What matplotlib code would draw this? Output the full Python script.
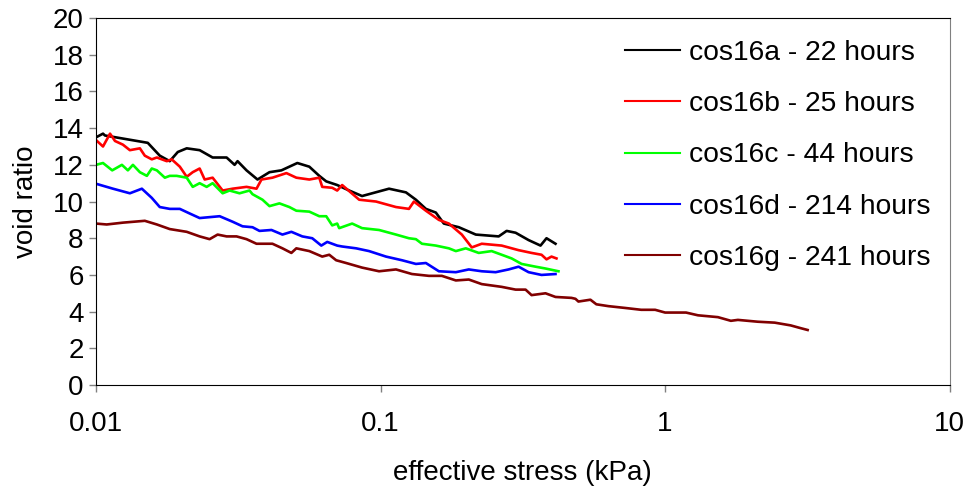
import matplotlib
matplotlib.use("Agg")
import matplotlib.pyplot as plt

plt.rcParams['font.family'] = ['Liberation Sans', 'DejaVu Sans']

# ---- data (effective stress in kPa, void ratio) ----
a_x = [0.01, 0.01058, 0.01075, 0.0152, 0.01675, 0.01816, 0.01938, 0.02083, 0.02313, 0.02569,
       0.02877, 0.03069, 0.03144, 0.0338, 0.03694, 0.0407, 0.04483, 0.05099, 0.05618, 0.0609,
       0.06442, 0.0704, 0.07757, 0.0861, 0.1071, 0.1228, 0.1331, 0.1443, 0.1564, 0.1669,
       0.1884, 0.2161, 0.2601, 0.2774, 0.2983, 0.3313, 0.3649, 0.383, 0.4119]
a_y = [13.5, 13.7, 13.6, 13.2, 12.5, 12.2, 12.7, 12.9, 12.8, 12.4,
       12.4, 12.0, 12.2, 11.7, 11.2, 11.6, 11.7, 12.1, 11.9, 11.4,
       11.1, 10.9, 10.6, 10.3, 10.7, 10.5, 10.1, 9.6, 9.4, 8.8,
       8.6, 8.2, 8.1, 8.4, 8.3, 7.9, 7.6, 8.0, 7.7]

b_x = [0.01, 0.01058, 0.0112, 0.01166, 0.01243, 0.01315, 0.01426, 0.01484, 0.0157, 0.01636,
       0.01773, 0.01845, 0.0197, 0.02083, 0.02187, 0.02313, 0.02409, 0.02569, 0.02786, 0.0302,
       0.0338, 0.03664, 0.03815, 0.04169, 0.04667, 0.05058, 0.05618, 0.0609, 0.06237, 0.06762,
       0.0704, 0.07328, 0.0841, 0.0964, 0.1133, 0.1258, 0.131, 0.1443, 0.1603, 0.1738,
       0.193, 0.2092, 0.2268, 0.2665, 0.3056, 0.3394, 0.3679, 0.383, 0.3988, 0.4152]
b_y = [13.35, 13.0, 13.7, 13.3, 13.1, 12.8, 12.9, 12.5, 12.3, 12.4,
       12.2, 12.3, 11.9, 11.35, 11.6, 11.8, 11.2, 11.3, 10.6, 10.7,
       10.8, 10.7, 11.2, 11.3, 11.55, 11.3, 11.2, 11.3, 10.8, 10.75,
       10.6, 10.9, 10.1, 10.0, 9.7, 9.6, 10.0, 9.5, 9.0, 8.8,
       8.2, 7.5, 7.7, 7.6, 7.35, 7.2, 7.1, 6.85, 7.0, 6.9]

c_x = [0.01, 0.01058, 0.01140, 0.01233, 0.01294, 0.01348, 0.01426, 0.01509, 0.0157, 0.01636,
       0.01745, 0.01816, 0.0192, 0.02083, 0.02187, 0.02313, 0.02448, 0.02569, 0.02786, 0.02947,
       0.03194, 0.03463, 0.03548, 0.03846, 0.0407, 0.04411, 0.04781, 0.05058, 0.05618, 0.0609,
       0.06442, 0.06762, 0.0704, 0.07154, 0.07946, 0.0861, 0.0988, 0.1133, 0.1258, 0.1331,
       0.1398, 0.1564, 0.1738, 0.1839, 0.1993, 0.2213, 0.2457, 0.2665, 0.2888, 0.3131,
       0.3505, 0.3799, 0.422]
c_y = [12.0, 12.1, 11.7, 12.0, 11.7, 12.0, 11.6, 11.4, 11.8, 11.7,
       11.3, 11.4, 11.4, 11.3, 10.8, 11.0, 10.8, 11.0, 10.45, 10.6,
       10.45, 10.6, 10.4, 10.1, 9.75, 9.9, 9.7, 9.5, 9.45, 9.2,
       9.2, 8.7, 8.8, 8.55, 8.8, 8.55, 8.45, 8.2, 8.0, 7.95,
       7.7, 7.6, 7.45, 7.3, 7.45, 7.2, 7.3, 7.1, 6.9, 6.6,
       6.45, 6.35, 6.2]

d_x = [0.0101, 0.01147, 0.01315, 0.01449, 0.0157, 0.01675, 0.01816, 0.0197, 0.02133, 0.02313,
       0.02507, 0.02719, 0.0302, 0.03273, 0.03548, 0.03754, 0.04136, 0.0452, 0.04859, 0.05309,
       0.05754, 0.0619, 0.06495, 0.0704, 0.07328, 0.0821, 0.0911, 0.1045, 0.119, 0.1331,
       0.1443, 0.1603, 0.1839, 0.2042, 0.2268, 0.2538, 0.2819, 0.3056, 0.3313, 0.3679,
       0.4119]
d_y = [10.95, 10.7, 10.45, 10.7, 10.2, 9.7, 9.6, 9.6, 9.35, 9.1,
       9.15, 9.2, 8.9, 8.65, 8.6, 8.4, 8.45, 8.2, 8.35, 8.1,
       8.0, 7.6, 7.8, 7.6, 7.55, 7.45, 7.3, 7.0, 6.8, 6.6,
       6.65, 6.2, 6.15, 6.3, 6.2, 6.15, 6.3, 6.45, 6.15, 6.0,
       6.05]

g_x = [0.01, 0.0109, 0.01243, 0.01484, 0.01636, 0.01816, 0.02083, 0.02313, 0.02507, 0.02675,
       0.02877, 0.03118, 0.0338, 0.03664, 0.04169, 0.0452, 0.04859, 0.05058, 0.05618, 0.06237,
       0.06601, 0.06982, 0.07568, 0.0861, 0.0988, 0.1133, 0.1289, 0.1479, 0.1642, 0.1839,
       0.2042, 0.2268, 0.2665, 0.2983, 0.3233, 0.3394, 0.3799, 0.4119, 0.4687, 0.484,
       0.4959, 0.5464, 0.5733, 0.6317, 0.7244, 0.8241, 0.9226, 1.0, 1.1847, 1.305,
       1.533, 1.703, 1.802, 2.118, 2.428, 2.763, 2.995, 3.169]
g_y = [8.8, 8.75, 8.85, 8.95, 8.75, 8.5, 8.35, 8.1, 7.95, 8.2,
       8.1, 8.1, 7.95, 7.7, 7.7, 7.45, 7.2, 7.45, 7.3, 7.0,
       7.1, 6.8, 6.65, 6.4, 6.2, 6.3, 6.05, 5.95, 5.95, 5.7,
       5.75, 5.5, 5.35, 5.2, 5.2, 4.9, 5.0, 4.8, 4.75, 4.7,
       4.55, 4.65, 4.4, 4.3, 4.2, 4.1, 4.1, 3.95, 3.95, 3.8,
       3.7, 3.5, 3.55, 3.45, 3.4, 3.25, 3.1, 3.0]

labels = ["cos16a - 22 hours", "cos16b - 25 hours", "cos16c - 44 hours",
          "cos16d - 214 hours", "cos16g - 241 hours"]
colors = ["#000000", "#ff0000", "#00ff00", "#0000ff", "#800000"]

x_ticks = [0.01, 0.1, 1, 10]
x_ticklabels = ["0.01", "0.1", "1", "10"]
y_ticks = list(range(0, 21, 2))

fig = plt.figure(figsize=(9.7, 4.88), dpi=100)
ax = fig.add_axes([0.099, 0.211, 0.880, 0.752])

series = [(a_x, a_y), (b_x, b_y), (c_x, c_y), (d_x, d_y), (g_x, g_y)]
handles = []
for (xs, ys), col, lab in zip(series, colors, labels):
    h, = ax.plot(xs, ys, color=col, lw=1.9, label=lab)
    handles.append(h)

ax.set_xscale('log')
ax.set_xlim(0.01, 10)
ax.set_ylim(0, 20)
ax.set_xticks(x_ticks)
ax.set_xticklabels(x_ticklabels)
ax.xaxis.set_minor_locator(matplotlib.ticker.NullLocator())
ax.set_yticks(y_ticks)
ax.tick_params(axis='both', labelsize=20, length=5, width=1, color='#808080', pad=4)
ax.tick_params(axis='x', pad=14)
for s in ['left', 'bottom', 'top']:
    ax.spines[s].set_color('black')
ax.spines['right'].set_color('#808080')

ax.set_xlabel("effective stress (kPa)", fontsize=20, labelpad=16)
ax.set_ylabel("void ratio", fontsize=20, labelpad=10)

leg = ax.legend(handles=handles, loc='upper left', bbox_to_anchor=(0.597, 0.995),
                frameon=False, fontsize=20.3, handlelength=1.95, handletextpad=0.3,
                labelspacing=0.9, borderpad=0.2)
for lh in leg.get_lines():
    lh.set_linewidth(1.5)

fig.savefig("out.png", dpi=100)
